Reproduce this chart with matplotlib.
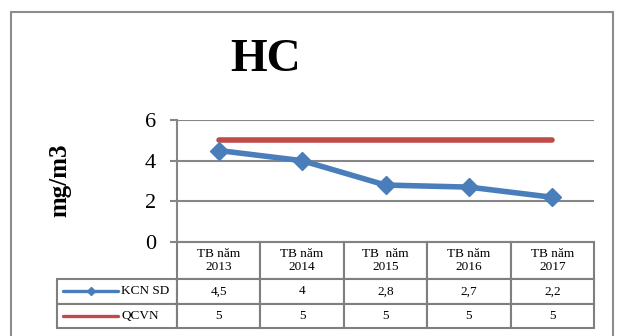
import numpy as np
import matplotlib.pyplot as plt
from matplotlib.patches import Rectangle

##### Data #####

categories = ['TB năm\n2013', 'TB năm\n2014', 'TB  năm\n2015', 'TB năm\n2016', 'TB năm\n2017']
kcn_sd = [4.5, 4, 2.8, 2.7, 2.2]
qcvn = [5, 5, 5, 5, 5]
kcn_labels = ['4,5', '4', '2,8', '2,7', '2,2']
qcvn_labels = ['5', '5', '5', '5', '5']
series_names = ['KCN SD', 'QCVN']
yticks = [0, 2, 4, 6]

################

blue = '#4A7EBB'
red = '#BE4B48'
grid_c = '#868686'
serif = ['Liberation Serif', 'DejaVu Serif']

W, H = 623, 336
fig = plt.figure(figsize=(W / 100, H / 100), dpi=100)

# plot area in pixels
px_l, px_r, px_t, px_b = 177, 594, 120, 242
ax = fig.add_axes([px_l / W, 1 - px_b / H, (px_r - px_l) / W, (px_b - px_t) / H])

x = np.arange(len(categories))
ax.plot(x, qcvn, color=red, lw=4, solid_capstyle='round', zorder=3)
ax.plot(x, kcn_sd, color=blue, lw=4, marker='D', ms=9, solid_capstyle='round', zorder=4)

ax.set_xlim(-0.5, len(categories) - 0.5)
ax.set_ylim(0, 6)
ax.set_yticks(yticks)
ax.set_yticklabels([str(v) for v in yticks], fontsize=16, family=serif)
ax.set_xticks([])
ax.grid(True, axis='y', color=grid_c, lw=1.5)
ax.set_axisbelow(True)
for s in ['top', 'right', 'bottom']:
    ax.spines[s].set_visible(False)
ax.spines['left'].set_color(grid_c)
ax.spines['left'].set_linewidth(1.5)
ax.tick_params(axis='y', length=5, width=1.5, color=grid_c, pad=10)

# title and axis label
fig.text(266 / W, 1 - 60 / H, 'HC', ha='center', va='center', fontsize=34,
         fontweight='bold', family=serif)
fig.text(60 / W, 1 - 180 / H, 'mg/m3', ha='center', va='center', rotation=90,
         fontsize=18, fontweight='bold', family=serif)

# data table under the plot, first column holds the series keys
leg_w = 120
col_w = (px_r - px_l) / len(categories)
head_h, row_h = 37, 24.5
tab_l = px_l - leg_w
tab_h = head_h + 2 * row_h
rows = [[''] + kcn_labels, [''] + qcvn_labels]
tab = ax.table(cellText=rows, colLabels=[''] + categories, cellLoc='center',
               bbox=[(tab_l - px_l) / (px_r - px_l), -tab_h / (px_b - px_t),
                     (px_r - tab_l) / (px_r - px_l), tab_h / (px_b - px_t)])
tab.auto_set_font_size(False)
for (r, c), cell in tab.get_celld().items():
    cell.set_edgecolor('#7f7f7f')
    cell.set_linewidth(1.5)
    cell.set_width(leg_w if c == 0 else col_w)
    cell.set_height(head_h if r == 0 else row_h)
    cell.get_text().set_fontsize(9.5)
    cell.get_text().set_family(serif)
    if r == 0 and c == 0:
        cell.set_visible(False)

# legend keys and names inside the first column
to_ax_x = lambda p: (p - px_l) / (px_r - px_l)
to_ax_y = lambda p: (px_b - p) / (px_b - px_t)
key_x = [to_ax_x(tab_l + 6), to_ax_x(tab_l + 61)]
for i, (name, col) in enumerate(zip(series_names, [blue, red])):
    yc = to_ax_y(px_b + head_h + row_h * (i + 0.5))
    ax.plot(key_x, [yc, yc], color=col, lw=2.4, transform=ax.transAxes, clip_on=False,
            solid_capstyle='round', zorder=5)
    if i == 0:
        ax.plot([np.mean(key_x)], [yc], color=col, marker='D', ms=4.5,
                transform=ax.transAxes, clip_on=False, zorder=5)
    ax.text(to_ax_x(tab_l + 64), yc, name, transform=ax.transAxes, ha='left',
            va='center', fontsize=9.5, family=serif)

# outer chart border
fig.patches.append(Rectangle((10.5 / W, -0.1), (613 - 10.5) / W, 1.1 - 11.5 / H,
                             transform=fig.transFigure, fill=False,
                             edgecolor='#8c8c8c', lw=1.5))

plt.savefig('out.png', dpi=100)
